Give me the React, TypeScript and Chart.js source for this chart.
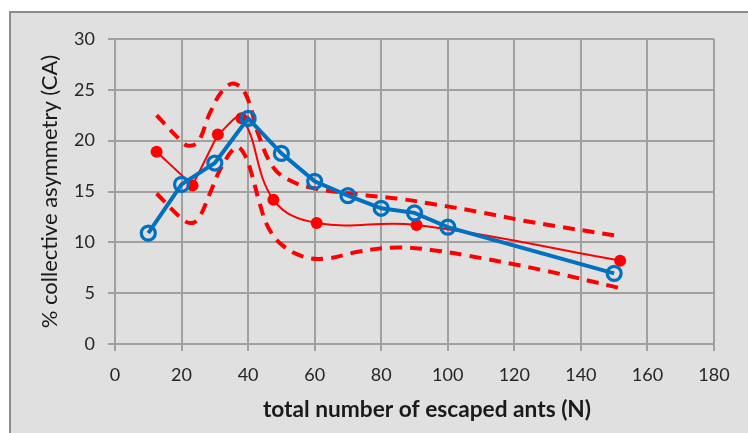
import React, { useEffect, useRef } from 'react';
import { Chart, registerables } from 'chart.js';

Chart.register(...registerables);

// Axis ranges / ticks
const X_MIN = 0;
const X_MAX = 180;
const X_STEP = 20;
const Y_MIN = 0;
const Y_MAX = 30;
const Y_STEP = 5;

const xTitle = 'total number of escaped ants (N)';
const yTitle = '% collective asymmetry (CA)';

// Blue series (hollow circles)
const blueX = [10, 20, 30, 40, 50, 60, 70, 80, 90, 100, 150];
const blueY = [10.9, 15.7, 17.8, 22.2, 18.75, 16.0, 14.6, 13.35, 12.9, 11.5, 6.95];

// Red series (filled dots)
const redX = [12.5, 23.3, 30.9, 38.0, 47.6, 60.6, 90.6, 151.8];
const redY = [18.9, 15.6, 20.6, 22.2, 14.2, 11.9, 11.7, 8.2];

// Red dashed upper band
const upperX = [12.5, 19.5, 22, 25, 28.5, 32.5, 36, 39.5, 43, 47.5, 52.5, 60, 75, 85, 95, 110, 125, 151.8];
const upperY = [22.5, 20.1, 19.5, 19.9, 22.7, 25.0, 25.6, 24.4, 20.7, 17.4, 16.1, 15.3, 14.65, 14.3, 13.8, 12.95, 12.0, 10.6];

// Red dashed lower band
const lowerX = [12.5, 19.5, 22.5, 25, 28.5, 32, 36.5, 39, 41, 43.5, 46, 50, 56.5, 63.5, 73.5, 85, 95, 105, 128, 151.8];
const lowerY = [14.8, 12.5, 11.9, 12.3, 14.8, 17.4, 19.35, 18.6, 16.8, 13.8, 11.5, 9.8, 8.6, 8.4, 9.1, 9.5, 9.25, 8.75, 7.3, 5.5];

const pts = (xs: number[], ys: number[]) => xs.map((x, i) => ({ x, y: ys[i] }));

const BLUE = '#0070C0';
const RED = '#FF0000';
const FONT = 'Lato, "Open Sans", sans-serif';

const bgPlugin = {
  id: 'bgFrame',
  beforeDraw(chart: any) {
    const { ctx, width, height } = chart;
    ctx.save();
    ctx.fillStyle = '#ffffff';
    ctx.fillRect(0, 0, width, height);
    ctx.fillStyle = '#e0e0e0';
    ctx.fillRect(9, 11, width - 9, height - 11);
    ctx.strokeStyle = '#8c8c8c';
    ctx.lineWidth = 2;
    ctx.beginPath();
    ctx.moveTo(10, height + 5);
    ctx.lineTo(10, 12);
    ctx.lineTo(width + 5, 12);
    ctx.stroke();
    ctx.restore();
  },
};

const xTitlePlugin = {
  id: 'xTitle',
  afterDraw(chart: any) {
    const { ctx } = chart;
    ctx.save();
    ctx.fillStyle = '#1a1a1a';
    ctx.font = `bold 22.7px ${FONT}`;
    ctx.textAlign = 'center';
    ctx.textBaseline = 'middle';
    ctx.fillText(xTitle, 427, 410);
    ctx.restore();
  },
};

export default function App() {
  const ref = useRef<HTMLCanvasElement>(null);

  useEffect(() => {
    document.body.style.margin = '0';
    document.body.style.overflow = 'hidden';
    const canvas = ref.current!;
    const chart = new Chart(canvas, {
      type: 'scatter',
      data: {
        datasets: [
          {
            data: pts(blueX, blueY),
            showLine: true,
            borderColor: BLUE,
            borderWidth: 4,
            pointRadius: 7,
            pointBorderWidth: 3.2,
            pointBorderColor: BLUE,
            pointBackgroundColor: 'rgba(0,0,0,0)',
            tension: 0,
          },
          {
            data: pts(redX, redY),
            showLine: false,
            pointRadius: 6,
            pointBorderWidth: 0,
            pointBackgroundColor: RED,
            pointBorderColor: RED,
          },
          {
            data: pts(redX.slice(0, 3), redY.slice(0, 3)),
            showLine: true,
            borderColor: RED,
            borderWidth: 2,
            pointRadius: 0,
            tension: 0,
          },
          {
            data: pts(redX.slice(2), redY.slice(2)),
            showLine: true,
            borderColor: RED,
            borderWidth: 2,
            pointRadius: 0,
            tension: 0.4,
          },
          {
            data: pts(upperX, upperY),
            showLine: true,
            borderColor: RED,
            borderWidth: 4,
            borderDash: [12, 8],
            pointRadius: 0,
            tension: 0.4,
          },
          {
            data: pts(lowerX, lowerY),
            showLine: true,
            borderColor: RED,
            borderWidth: 4,
            borderDash: [12, 8],
            pointRadius: 0,
            tension: 0.4,
          },
        ],
      },
      options: {
        responsive: false,
        animation: false,
        events: [],
        layout: { padding: { left: 0, top: 39, right: 34, bottom: 0 } },
        plugins: {
          legend: { display: false },
          tooltip: { enabled: false },
        },
        scales: {
          x: {
            type: 'linear',
            min: X_MIN,
            max: X_MAX,
            ticks: {
              stepSize: X_STEP,
              font: { family: FONT, size: 18 },
              color: '#262626',
              padding: 13,
            },
            grid: { color: '#a0a0a0', lineWidth: 2, tickLength: 7 },
            border: { color: '#a0a0a0', width: 2 },
            afterFit: (s: any) => {
              s.height = 89;
            },
          },
          y: {
            type: 'linear',
            min: Y_MIN,
            max: Y_MAX,
            ticks: {
              stepSize: Y_STEP,
              font: { family: FONT, size: 18 },
              color: '#262626',
              padding: 13,
            },
            grid: { color: '#a0a0a0', lineWidth: 2, tickLength: 7 },
            border: { color: '#a0a0a0', width: 2 },
            title: {
              display: true,
              text: yTitle,
              font: { family: FONT, size: 22 },
              color: '#1a1a1a',
              padding: { top: 37, bottom: 0 },
            },
            afterFit: (s: any) => {
              s.width = 115;
            },
          },
        },
      },
      plugins: [bgPlugin, xTitlePlugin],
    });
    return () => chart.destroy();
  }, []);

  return <canvas ref={ref} width={748} height={433} style={{ display: 'block' }} />;
}
